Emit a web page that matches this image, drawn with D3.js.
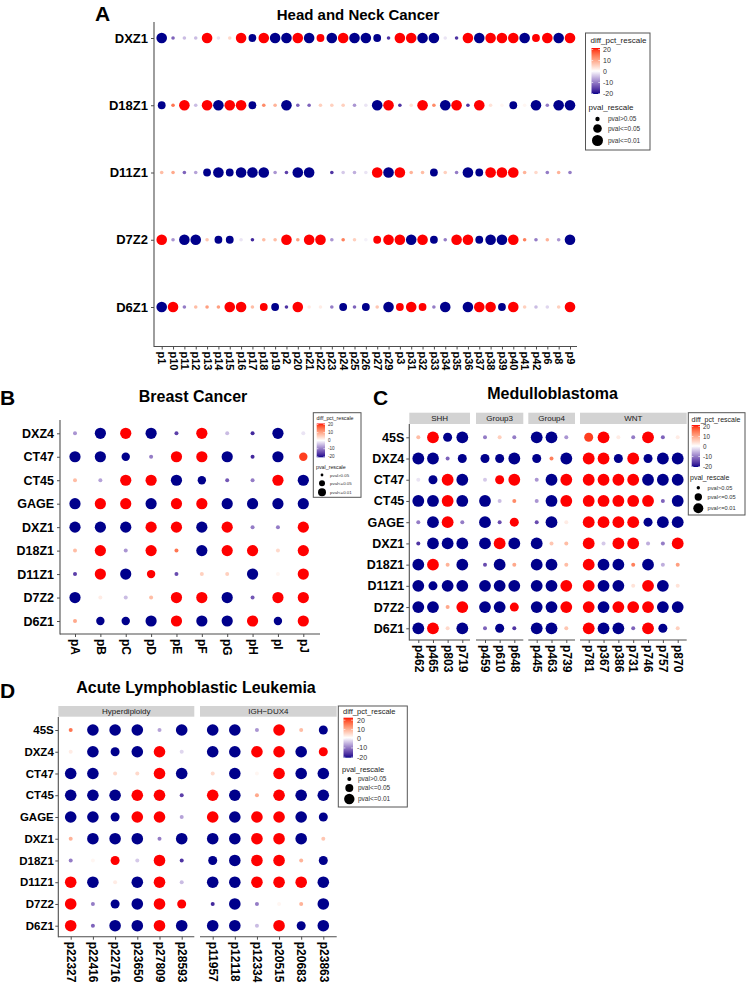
<!DOCTYPE html>
<html><head><meta charset="utf-8">
<script src="https://cdn.jsdelivr.net/npm/d3@7"></script>
<style>body{margin:0;background:#fff} svg{display:block} text{font-family:"Liberation Sans",Arial,sans-serif}</style>
</head><body><svg id="c" width="747" height="985"></svg>
<script>
// ---------- DATA ----------
const colorTicks = [20, 10, 0, -10, -20];
const sizeLevels = ["S", "M", "L"];
const sizeLabels = ["pval>0.05", "pval<=0.05", "pval<=0.01"];

// A: Head and Neck Cancer
const hncRows = ["DXZ1", "D18Z1", "D11Z1", "D7Z2", "D6Z1"];
const hncCols = ["p1","p10","p11","p12","p13","p14","p15","p16","p17","p18","p19","p2","p20","p21","p22","p23","p24","p25","p26","p27","p29","p3","p31","p32","p33","p34","p35","p36","p37","p38","p39","p40","p41","p42","p6","p8","p9"];
const hncDiff = [
  [-20,-12,-5,-5,20,-2,4,20,-20,20, -20,-20,20,-20,20,-20,20,-20,-20,-20, -16,20,20,-20,-20,-2,-16,20,-20,20, 20,20,-20,20,20,-20,20],
  [-20,14,20,-5,20,-20,20,20,-20,12, 8,-20,-12,-12,5,5,5,-8,-2,-20, 20,-16,3,20,12,-20,20,-16,20,3, 1,-20,1,-20,-10,-20,-20],
  [7,9,-12,-7,-20,-20,-20,-20,-20,-20, -8,-15,-20,-20,0,-16,-4,-6,-2,20, -20,20,8,7,-20,5,-10,-20,-20,20, 20,20,8,4,-10,8,-10],
  [20,-8,-20,-20,6,-20,-20,-2,-17,7, 7,20,10,20,20,-8,13,5,-1,20, 20,20,-20,20,-20,-10,20,20,-20,-20, -20,20,13,-10,8,-8,-20],
  [-20,20,-10,7,10,10,20,20,7,20, -20,-16,20,2,2,-10,-20,-12,-20,6, -20,20,20,20,-10,-20,0,-20,20,20, -20,20,5,-5,-3,5,20]
];
const hncSig = [
  "LSSSLSSLMLLLLLMLLLLMSLLLLSSLLLLLLMLLL",
  "MSLSLLLLMSSLSSSSSSSLLSSLSLLSLSSMSLSLL",
  "SSSSMLMLLLSSLLSSSSSLLLSSMSSLMLLLSSSSS",
  "LSLLSMMSSSSLSLLSSSSMLLLLMSLLMLLLSSSSL",
  "LLSSSSLLSMMSLSSSMSMSLMLMSLSLLLMLSSSSL"
];

// B: Breast Cancer
const brcaRows = ["DXZ4","CT47","CT45","GAGE","DXZ1","D18Z1","D11Z1","D7Z2","D6Z1"];
const brcaCols = ["pA","pB","pC","pD","pE","pF","pG","pH","pI","pJ"];
const brcaDiff = [
  [-8,-20,20,-20,-15,20,-5,-17,-20,-2],
  [-20,-20,-20,-10,20,20,-20,-17,-20,18],
  [7,-7,20,20,-20,-20,-13,-10,20,-20],
  [-20,20,20,-20,20,20,-20,-20,-20,-20],
  [-20,-20,-20,20,20,-20,20,-10,-10,20],
  [7,20,-8,20,14,-20,20,20,4,20],
  [-15,20,-20,20,-14,5,5,-20,1,20],
  [-20,2,-5,7,20,20,-20,-13,20,20],
  [9,-20,-20,-20,20,-20,-20,20,-20,20]
];
const brcaSig = ["SLLLSLSSLS","LLMSLLLSLM","SSLLLMSSLL","LLLLLLLLLL","LLLLLLLSSL","SLSLSLLLSL","SLLMSSSLSL","LSSSLLLSLL","SMMLLLLLML"];

// C: Medulloblastoma
const mbRows = ["45S","DXZ4","CT47","CT45","GAGE","DXZ1","D18Z1","D11Z1","D7Z2","D6Z1"];
const mbGroups = ["SHH","Group3","Group4","WNT"];
const mbCols = [["p462","p465","p803","p719"],["p459","p610","p648"],["p445","p463","p739"],["p781","p367","p386","p731","p746","p757","p870"]];
const mbDiff = [
  [7,20,-20,-20, -10,5,-10, -20,-20,-8, 18,20,2,-10,20,-12,2],
  [-20,-20,-12,-20, -20,-20,-20, -20,13,-20, 20,20,-20,20,-20,-20,-20],
  [-2,-20,20,-20, -4,20,20, -8,-20,20, 20,20,20,20,-20,-20,-20],
  [-20,-20,20,-20, -20,-5,12, -8,-20,20, 20,20,20,20,20,-12,-20],
  [-10,-20,20,-10, -20,-14,20, -14,-20,2, 20,20,20,20,-20,-20,-20],
  [-16,-20,-20,-20, -20,20,-20, -20,6,7, 20,-4,20,20,-6,-10,20],
  [-20,20,8,-20, -14,-20,9, -20,-20,7, 20,-20,-20,13,-20,-6,10],
  [-20,-20,-20,-20, -20,-20,-20, -20,-20,20, 20,-20,-20,3,20,-20,3],
  [-20,-20,9,20, -20,-20,20, -20,-20,20, 20,-20,20,20,20,-20,-20],
  [-20,20,4,-20, -12,-20,-16, -20,-20,6, 20,-20,-20,-12,20,-20,5]
];
const mbSig = ["SLMLSSSLLSMLSSLSS","LLSMMMLMSLLLMLMLL","SMLLSMLSLLLLLLLLL","LLLLLSSSLLLLLLLSL","SLLSLSMSLSLLLLMLL","SLLLLLLLSSLSLLSSL","LLSLSLSLLSLLLSLSS","LMLLLLLLLLLLLSLLS","LLSLLLMLLLLLLLLLL","LLSLSMSLLSLLLSLMS"];

// D: Acute Lymphoblastic Leukemia
const allRows = ["45S","DXZ4","CT47","CT45","GAGE","DXZ1","D18Z1","D11Z1","D7Z2","D6Z1"];
const allGroups = ["Hyperdiploidy","IGH\u2212DUX4"];
const allCols = [["p22327","p22416","p22716","p23650","p27809","p28593"],["p11957","p12118","p12334","p20515","p20683","p23863"]];
const allDiff = [
  [14,-20,-20,-20,-7,-20, -20,-20,-8,20,7,-20],
  [2,-20,-20,-20,20,-3, -20,-20,20,20,-20,20],
  [-20,-20,4,4,20,-20, 4,-20,1,20,-20,-20],
  [-20,-20,-20,20,20,-15, 20,-20,9,20,-20,-20],
  [-20,-20,-20,20,20,-7, 20,-20,20,20,-20,-20],
  [8,-20,-20,-20,-10,-20, -20,-20,20,20,-20,6],
  [-10,1,20,-4,20,-16, -20,-20,20,20,8,-20],
  [20,-20,2,-20,20,-5, -20,-20,20,20,20,-20],
  [20,-10,-20,-20,20,20, -17,-20,-10,1,8,-20],
  [20,-12,-20,-20,20,-20, -20,-20,-5,20,-20,-20]
];
const allSig = ["SLLLSLLLSLSM","SLMLLSLLLLLM","LLSSLLSLSLLL","LLLLLSLLSLLL","LLMLLSLLLLLM","SLLLSLLLLLLS","SSMSLSMLLLSM","LLSLLSLLLLLL","LSMLLMSLSSSL","LSLLLLLLSLML"];

// ---------- DRAWING ----------
const svg = d3.select("#c");
const FONT = '"Liberation Sans",Arial,sans-serif';
const color = d3.scaleLinear().domain([-20, 0, 20]).range(["#00008B", "#FFFFFF", "#FF0000"]).interpolate(d3.interpolateLab).clamp(true);
const AX = "#4d4d4d";

function panel(cfg) {
  const g = svg.append("g");
  const y = d3.scalePoint().domain(cfg.rows).range([cfg.yFirst, cfg.yLast]);
  const r = d3.scaleOrdinal().domain(sizeLevels).range(cfg.radii);
  let off = 0;
  cfg.facets.forEach(f => {
    const x = d3.scalePoint().domain(f.cols).range([f.xFirst, f.xLast]);
    if (f.name) {
      g.append("rect").attr("x", f.x0).attr("y", cfg.strip[0]).attr("width", f.x1 - f.x0)
        .attr("height", cfg.strip[1] - cfg.strip[0]).attr("fill", "#d3d3d3");
      g.append("text").attr("x", (f.x0 + f.x1) / 2).attr("y", (cfg.strip[0] + cfg.strip[1]) / 2)
        .attr("dy", "0.35em").attr("text-anchor", "middle").attr("font-size", cfg.stripFont)
        .attr("fill", "#1a1a1a").text(f.name);
    }
    const ax = g.append("g").attr("transform", `translate(0,${cfg.yAxis1})`)
      .call(d3.axisBottom(x).tickSize(3).tickSizeOuter(0).tickPadding(2));
    ax.select(".domain").remove();
    ax.selectAll(".tick line").attr("stroke", AX);
    ax.selectAll(".tick text").attr("transform", "rotate(90)").attr("x", 5).attr("y", 0)
      .attr("dy", "0.35em").style("text-anchor", "start").attr("font-size", cfg.xFont)
      .attr("font-weight", "bold").attr("fill", "#000").attr("font-family", FONT);
    g.append("line").attr("x1", f.x0).attr("x2", f.x1).attr("y1", cfg.yAxis1).attr("y2", cfg.yAxis1)
      .attr("stroke", AX).attr("stroke-width", 1.1);
    const pts = [];
    cfg.rows.forEach((row, i) => {
      f.cols.forEach((col, j) => {
        pts.push({ row, col, v: cfg.diff[i][off + j], s: cfg.sig[i][off + j] });
      });
    });
    g.append("g").selectAll("circle").data(pts).join("circle")
      .attr("cx", d => x(d.col)).attr("cy", d => y(d.row))
      .attr("r", d => r(d.s)).attr("fill", d => color(d.v));
    off += f.cols.length;
  });
  const ay = g.append("g").attr("transform", `translate(${cfg.axisX},0)`)
    .call(d3.axisLeft(y).tickSize(3).tickSizeOuter(0).tickPadding(cfg.yPad));
  ay.select(".domain").remove();
  ay.selectAll(".tick line").attr("stroke", AX);
  ay.selectAll(".tick text").attr("font-size", cfg.yFont).attr("font-weight", "bold")
    .attr("fill", "#000").attr("font-family", FONT);
  g.append("line").attr("x1", cfg.axisX).attr("x2", cfg.axisX).attr("y1", cfg.yAxis0).attr("y2", cfg.yAxis1 + 0.5)
    .attr("stroke", AX).attr("stroke-width", 1.1);
  svg.append("text").attr("x", cfg.title[1]).attr("y", cfg.title[2]).attr("text-anchor", "middle")
    .attr("font-size", cfg.title[3]).attr("font-weight", "bold").text(cfg.title[0]);
  svg.append("text").attr("x", cfg.letter[1]).attr("y", cfg.letter[2])
    .attr("font-size", 21).attr("font-weight", "bold").text(cfg.letter[0]);
}

let gid = 0;
function legend(L) {
  const g = svg.append("g");
  g.append("rect").attr("x", L.box[0]).attr("y", L.box[1]).attr("width", L.box[2] - L.box[0])
    .attr("height", L.box[3] - L.box[1]).attr("fill", "#fff").attr("stroke", "#555").attr("stroke-width", 1);
  g.append("text").attr("x", L.title[0]).attr("y", L.title[1]).attr("font-size", L.titleFont)
    .attr("fill", "#222").text("diff_pct_rescale");
  const id = "grad" + (gid++);
  const grad = svg.append("defs").append("linearGradient").attr("id", id)
    .attr("x1", 0).attr("x2", 0).attr("y1", 0).attr("y2", 1);
  d3.range(0, 41).forEach(k => {
    grad.append("stop").attr("offset", (k / 40)).attr("stop-color", color(20 - k));
  });
  const [bx0, by0, bx1, by1] = L.bar;
  g.append("rect").attr("x", bx0).attr("y", by0).attr("width", bx1 - bx0).attr("height", by1 - by0)
    .attr("fill", `url(#${id})`);
  const ty = d3.scaleLinear().domain([20, -20]).range([by0 + L.inset, by1 - 0.5]);
  colorTicks.forEach(t => {
    g.append("line").attr("x1", bx0).attr("x2", bx0 + (bx1 - bx0) * 0.2).attr("y1", ty(t)).attr("y2", ty(t)).attr("stroke", "#fff").attr("stroke-width", 0.6);
    g.append("line").attr("x1", bx1 - (bx1 - bx0) * 0.2).attr("x2", bx1).attr("y1", ty(t)).attr("y2", ty(t)).attr("stroke", "#fff").attr("stroke-width", 0.6);
    g.append("text").attr("x", L.tickX).attr("y", ty(t)).attr("dy", "0.35em")
      .attr("font-size", L.tickFont).attr("fill", "#333").text(t);
  });
  g.append("text").attr("x", L.sizeTitle[0]).attr("y", L.sizeTitle[1]).attr("font-size", L.titleFont)
    .attr("fill", "#222").text("pval_rescale");
  const rs = d3.scaleOrdinal().domain(sizeLevels).range(L.radii);
  sizeLevels.forEach((s, i) => {
    g.append("circle").attr("cx", L.cx).attr("cy", L.cy[i]).attr("r", rs(s)).attr("fill", "#000");
    g.append("text").attr("x", L.labX).attr("y", L.cy[i]).attr("dy", "0.35em")
      .attr("font-size", L.labFont).attr("fill", "#333").text(sizeLabels[i]);
  });
}

// Panel A
panel({
  rows: hncRows, diff: hncDiff, sig: hncSig, radii: [1.8, 3.9, 5.3],
  yFirst: 38, yLast: 307, yAxis0: 22, yAxis1: 346.5, axisX: 154, yPad: 3,
  facets: [{ name: null, cols: hncCols, xFirst: 161.7, xLast: 570, x0: 154, x1: 577 }],
  xFont: 11, yFont: 13, title: ["Head and Neck Cancer", 358, 20, 15], letter: ["A", 95, 21]
});
legend({ box: [585.5, 33, 650, 150], title: [590.5, 43], titleFont: 8, bar: [591.5, 48, 600, 94], inset: 1.5,
  tickX: 603, tickFont: 7, sizeTitle: [588.5, 109.5], cx: 597.5, cy: [119, 128.5, 140.5],
  radii: [2.2, 4.3, 5.5], labX: 608, labFont: 6.5 });

// Panel B
panel({
  rows: brcaRows, diff: brcaDiff, sig: brcaSig, radii: [2, 4.2, 5.6],
  yFirst: 433.3, yLast: 621, yAxis0: 420, yAxis1: 634, axisX: 60, yPad: 3,
  facets: [{ name: null, cols: brcaCols, xFirst: 75, xLast: 303.3, x0: 60, x1: 320 }],
  xFont: 12, yFont: 12.5, title: ["Breast Cancer", 193, 402, 16], letter: ["B", 0, 405]
});
legend({ box: [313.3, 412.7, 361, 497.3], title: [316.5, 419.5], titleFont: 5.3, bar: [316.7, 423.5, 325, 457.3], inset: 1,
  tickX: 328, tickFont: 4.6, sizeTitle: [316, 468.5], cx: 322, cy: [475, 483.3, 492.3],
  radii: [1.4, 3, 4], labX: 330, labFont: 4.4 });

// Panel C
const mbX = [[418.3, 462.3, 409.3, 470], [485, 514.3, 476, 523.3], [536.7, 566.3, 528.3, 575], [588.7, 677.7, 580, 686.7]];
panel({
  rows: mbRows, diff: mbDiff, sig: mbSig, radii: [2, 4.5, 5.9],
  yFirst: 437.3, yLast: 628.3, yAxis0: 424, yAxis1: 640, axisX: 409.3, yPad: 2, strip: [412.7, 424], stripFont: 8,
  facets: mbGroups.map((n, i) => ({ name: n, cols: mbCols[i], xFirst: mbX[i][0], xLast: mbX[i][1], x0: mbX[i][2], x1: mbX[i][3] })),
  xFont: 12, yFont: 12.5, title: ["Medulloblastoma", 552.5, 399, 16], letter: ["C", 373, 405]
});
legend({ box: [688.3, 412.7, 745, 515], title: [691.5, 421.5], titleFont: 7, bar: [691.7, 425, 700, 467], inset: 1.5,
  tickX: 703, tickFont: 6.3, sizeTitle: [690, 480], cx: 698.3, cy: [487.7, 497, 508.3],
  radii: [1.7, 3.7, 5], labX: 707.5, labFont: 5.7 });

// Panel D
const allX = [[70.7, 181.7, 58.3, 194.3], [212.7, 323.3, 200, 336.7]];
panel({
  rows: allRows, diff: allDiff, sig: allSig, radii: [2, 4.5, 5.8],
  yFirst: 730, yLast: 925.7, yAxis0: 717, yAxis1: 936.7, axisX: 58.3, yPad: 1.5, strip: [706, 716.7], stripFont: 8,
  facets: allGroups.map((n, i) => ({ name: n, cols: allCols[i], xFirst: allX[i][0], xLast: allX[i][1], x0: allX[i][2], x1: allX[i][3] })),
  xFont: 12, yFont: 11.5, title: ["Acute Lymphoblastic Leukemia", 196, 693, 16], letter: ["D", 0, 698]
});
legend({ box: [338.3, 706, 407.3, 807], title: [343, 713.5], titleFont: 7.5, bar: [343.5, 717.7, 353, 757.7], inset: 2.5,
  tickX: 357, tickFont: 7, sizeTitle: [342, 772], cx: 349.3, cy: [779, 788, 799],
  radii: [2, 4, 5.2], labX: 358, labFont: 6.5 });
</script></body></html>
